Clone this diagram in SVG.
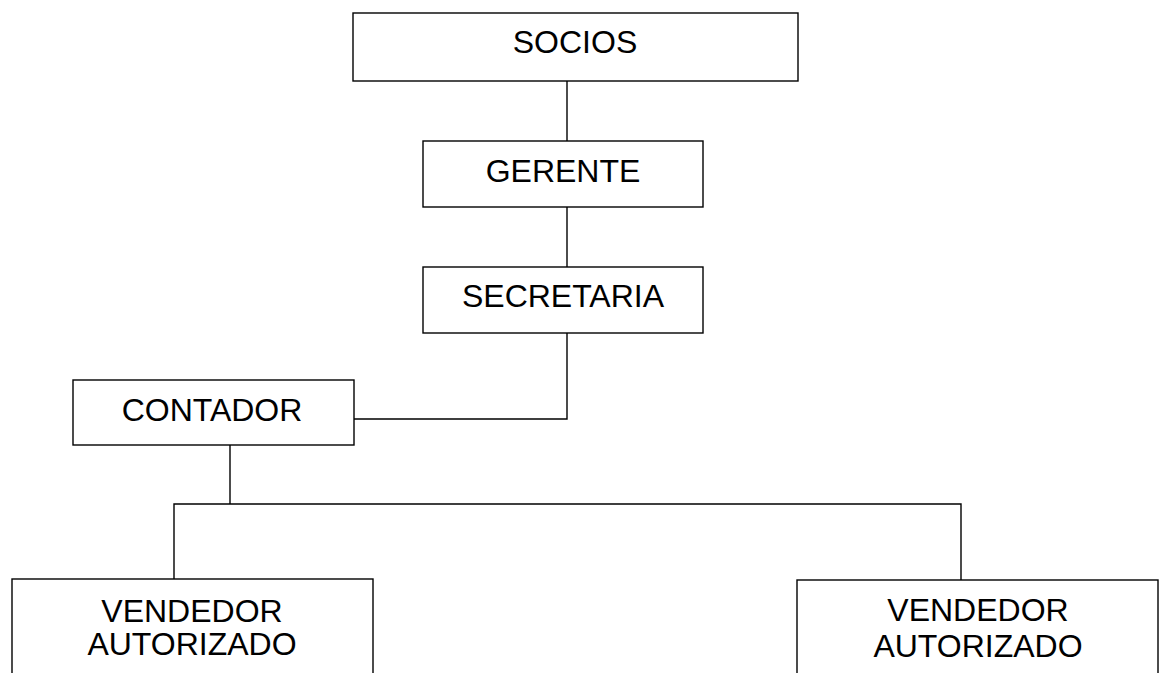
<svg xmlns="http://www.w3.org/2000/svg" width="1159" height="673" viewBox="0 0 1159 673">
<style>
.box{fill:#fff;stroke:#000;stroke-width:1.4}
.lbl{font-family:"Liberation Sans",Arial,sans-serif;font-size:32px;fill:#000;text-anchor:middle}
.conn{fill:none;stroke:#000;stroke-width:1.4}
</style>
<rect width="1159" height="673" fill="#fff"/>
<g id="connectors">
<path class="conn" d="M567,81V141"/>
<path class="conn" d="M567,207V267"/>
<path class="conn" d="M567,333V419H354"/>
<path class="conn" d="M230,445V504"/>
<path class="conn" d="M174,579V504H961V580"/>
</g>
<g id="socios"><rect class="box" x="353" y="13" width="445" height="68"/><text class="lbl" x="575" y="53">SOCIOS</text></g>
<g id="gerente"><rect class="box" x="423" y="141" width="280" height="66"/><text class="lbl" x="563" y="182">GERENTE</text></g>
<g id="secretaria"><rect class="box" x="423" y="267" width="280" height="66"/><text class="lbl" x="563" y="307">SECRETARIA</text></g>
<g id="contador"><rect class="box" x="73" y="380" width="281" height="65"/><text class="lbl" x="212" y="421">CONTADOR</text></g>
<g id="vendedor1"><rect class="box" x="12" y="579" width="361" height="110"/><text class="lbl" x="192" y="622">VENDEDOR</text><text class="lbl" x="192" y="655">AUTORIZADO</text></g>
<g id="vendedor2"><rect class="box" x="797" y="580" width="361" height="110"/><text class="lbl" x="978" y="621">VENDEDOR</text><text class="lbl" x="978" y="657">AUTORIZADO</text></g>
</svg>
